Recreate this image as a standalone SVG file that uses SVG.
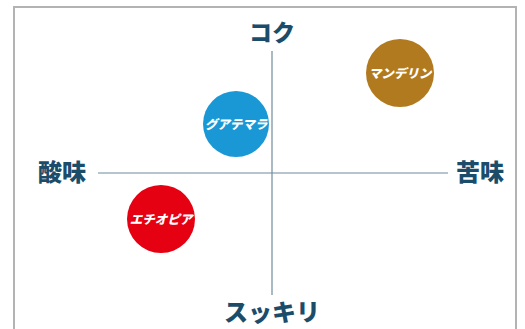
<svg xmlns="http://www.w3.org/2000/svg" width="525" height="329" viewBox="0 0 525 329">
<style>
.axis{stroke:#6f8c9c;stroke-width:1.2;fill:none}
.ax{font-family:"Noto Sans CJK JP","Noto Sans CJK SC",sans-serif;font-weight:900;fill:#1b4d6b}
.lbl{font-family:"Noto Sans CJK JP","Noto Sans CJK SC",sans-serif;font-weight:900;font-size:12.5px;fill:#fff;text-anchor:middle;font-style:italic}
</style>
<rect x="0" y="0" width="525" height="329" fill="#fff"/>
<rect x="14" y="7" width="502" height="330" fill="none" stroke="#b3b3b3" stroke-width="2"/>
<g id="connectors">
<line class="axis" x1="272" y1="51" x2="272" y2="295"/>
<line class="axis" x1="98" y1="173" x2="448" y2="173"/>
</g>
<g id="label-koku"><text class="ax" x="272" y="41" font-size="23" text-anchor="middle">コク</text></g>
<g id="label-sukkiri"><text class="ax" x="272" y="321" font-size="24" text-anchor="middle">スッキリ</text></g>
<g id="label-sanmi"><text class="ax" x="38" y="181" font-size="24">酸味</text></g>
<g id="label-nigami"><text class="ax" x="456" y="181" font-size="24">苦味</text></g>
<g id="mandheling"><circle cx="400" cy="73" r="34" fill="#b27a1f"/><text class="lbl" x="400" y="77.5">マンデリン</text></g>
<g id="guatemala"><circle cx="236" cy="124" r="33" fill="#1a98d5"/><text class="lbl" x="236" y="128.5">グアテマラ</text></g>
<g id="ethiopia"><circle cx="161" cy="219" r="34" fill="#e50012"/><text class="lbl" x="161" y="223.5">エチオピア</text></g>
</svg>
